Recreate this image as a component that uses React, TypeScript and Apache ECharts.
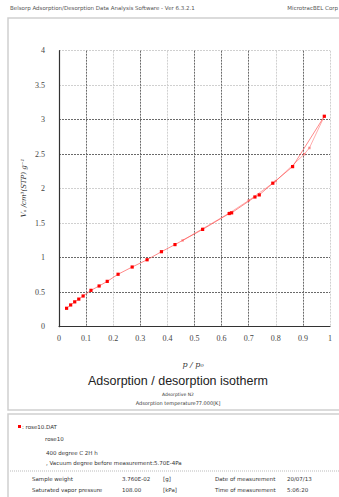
import React, { useEffect, useRef } from "react";
import * as echarts from "echarts";

const xTicks = [0, 0.1, 0.2, 0.3, 0.4, 0.5, 0.6, 0.7, 0.8, 0.9, 1];
const yTicks = [0, 0.5, 1, 1.5, 2, 2.5, 3, 3.5, 4];

const adsorption: [number, number][] = [
  [0.028, 0.267], [0.043, 0.315], [0.058, 0.36], [0.073, 0.4], [0.089, 0.445],
  [0.118, 0.527], [0.148, 0.59], [0.178, 0.657], [0.218, 0.76], [0.27, 0.865],
  [0.325, 0.97], [0.378, 1.087], [0.428, 1.19], [0.53, 1.41], [0.628, 1.64],
  [0.637, 1.65], [0.723, 1.88], [0.739, 1.91], [0.789, 2.08], [0.862, 2.32],
  [0.979, 3.05],
];

const desorption: [number, number][] = [
  [0.979, 3.05], [0.924, 2.59], [0.905, 2.5], [0.8, 2.11], [0.7, 1.83],
  [0.63, 1.65], [0.53, 1.42], [0.456, 1.25],
];

const headerLeft = "Belsorp Adsorption/Desorption Data Analysis Software - Ver 6.3.2.1";
const headerRight = "MicrotracBEL Corp";
const titleText = "Adsorption / desorption isotherm";
const subtitle1 = "Adsorptive N2";
const subtitle2 = "Adsorption temperature77.000[K]";
const fileName = "rose10.DAT";
const sampleName = "rose10";
const pretreat1 = "400 degree C 2H h";
const pretreat2 = ", Vacuum degree before measurement:5.70E-4Pa";
const infoRows = [
  ["Sample weight", "3.760E-02", "[g]", "Date of measurement", "20/07/13"],
  ["Saturated vapor pressure", "108.00", "[kPa]", "Time of measurement", "5:06:20"],
];

const DARK = "#6a6a6a";
const LIGHT = "#d0d0d0";
const xGridColors = ["rgba(0,0,0,0)", DARK, LIGHT, DARK, LIGHT, DARK, DARK, DARK, LIGHT, DARK, LIGHT];
const yGridColors = ["rgba(0,0,0,0)", DARK, DARK, LIGHT, LIGHT, DARK, DARK, LIGHT, LIGHT];

export default function App() {
  const ref = useRef<HTMLDivElement>(null);
  useEffect(() => {
    if (!ref.current) return;
    const chart = echarts.init(ref.current, null, { renderer: "svg" });
    const small = { fontFamily: "DejaVu Sans", fontSize: 5.5, fill: "#333" };
    const graphics: any[] = [
      { type: "rect", shape: { x: 8, y: 18, width: 340, height: 392 }, style: { fill: "none", stroke: "#cfcfcf", lineWidth: 1.5 }, silent: true },
      { type: "rect", shape: { x: 8, y: 414, width: 340, height: 100 }, style: { fill: "none", stroke: "#cfcfcf", lineWidth: 1.5 }, silent: true },
      { type: "text", x: 10, y: 8, style: { ...small, text: headerLeft, fill: "#555", verticalAlign: "middle" } },
      { type: "text", x: 338, y: 8, style: { ...small, text: headerRight, fill: "#555", align: "right", verticalAlign: "middle" } },
      { type: "text", x: 193, y: 364, style: { text: "p / p₀", fontFamily: "DejaVu Serif", fontStyle: "italic", fontSize: 8, fill: "#333", align: "center", verticalAlign: "middle" } },
      { type: "text", x: 178, y: 381, style: { text: titleText, fontFamily: "Liberation Sans", fontSize: 12.5, fill: "#222", align: "center", verticalAlign: "middle" } },
      { type: "text", x: 178, y: 394, style: { ...small, fontSize: 4.5, text: subtitle1, align: "center", verticalAlign: "middle" } },
      { type: "text", x: 178, y: 403, style: { ...small, fontSize: 5, text: subtitle2, align: "center", verticalAlign: "middle" } },
      {
        type: "text", x: 24, y: 188, rotation: Math.PI / 2,
        style: { text: "Vₐ /cm³(STP) g⁻¹", fontFamily: "DejaVu Serif", fontStyle: "italic", fontSize: 7, fill: "#333", align: "center", verticalAlign: "middle" },
      },
      { type: "rect", shape: { x: 18, y: 425, width: 3, height: 3 }, style: { fill: "#ff0000" } },
      { type: "text", x: 22, y: 426.5, style: { ...small, text: ": " + fileName, verticalAlign: "middle" } },
      { type: "text", x: 45, y: 439, style: { ...small, text: sampleName, verticalAlign: "middle" } },
      { type: "text", x: 46, y: 453, style: { ...small, text: pretreat1, verticalAlign: "middle" } },
      { type: "text", x: 46, y: 462.5, style: { ...small, text: pretreat2, verticalAlign: "middle" } },
      { type: "line", shape: { x1: 10, y1: 471, x2: 339, y2: 471 }, style: { stroke: "#bbb", lineWidth: 1, lineDash: [1, 1] } },
    ];
    const colX = [32, 122, 163, 215, 287];
    infoRows.forEach((row, ri) => {
      row.forEach((cell, ci) => {
        graphics.push({ type: "text", x: colX[ci], y: 479 + ri * 11, style: { ...small, text: cell, verticalAlign: "middle" } });
      });
    });

    chart.setOption({
      animation: false,
      backgroundColor: "#fff",
      grid: { left: 59, right: 9, top: 50.7, bottom: 170.3 },
      xAxis: {
        type: "value", min: 0, max: 1, interval: 0.1,
        axisLine: { show: true, onZero: false, lineStyle: { color: "#333", width: 1.2 } },
        axisTick: { show: false },
        axisLabel: { color: "#444", fontFamily: "Liberation Serif", fontSize: 8, margin: 8, formatter: (v: number) => String(Math.round(v * 10) / 10) },
        splitLine: { show: true, showMinLine: true, showMaxLine: true, lineStyle: { color: xGridColors, type: [2, 1], width: 1 } },
      },
      yAxis: {
        type: "value", min: 0, max: 4, interval: 0.5,
        axisLine: { show: true, onZero: false, lineStyle: { color: "#333", width: 1.2 } },
        axisTick: { show: false },
        axisLabel: { color: "#444", fontFamily: "Liberation Serif", fontSize: 8, margin: 14, formatter: (v: number) => String(v) },
        splitLine: { show: true, showMinLine: true, showMaxLine: true, lineStyle: { color: yGridColors, type: [2, 1], width: 1 } },
      },
      series: [
        {
          type: "line", data: desorption, symbol: "rect", symbolSize: 2.5,
          itemStyle: { color: "rgba(255,80,80,0.55)" },
          lineStyle: { color: "rgba(255,90,90,0.5)", width: 1 }, z: 2,
        },
        {
          type: "line", data: adsorption, symbol: "rect", symbolSize: 3.2,
          itemStyle: { color: "#ff0000" },
          lineStyle: { color: "rgba(255,60,60,0.6)", width: 1 }, z: 3,
        },
      ],
      graphic: graphics,
    });
    return () => chart.dispose();
  }, []);
  return <div ref={ref} style={{ position: "fixed", left: 0, top: 0, width: 339, height: 497 }} />;
}
